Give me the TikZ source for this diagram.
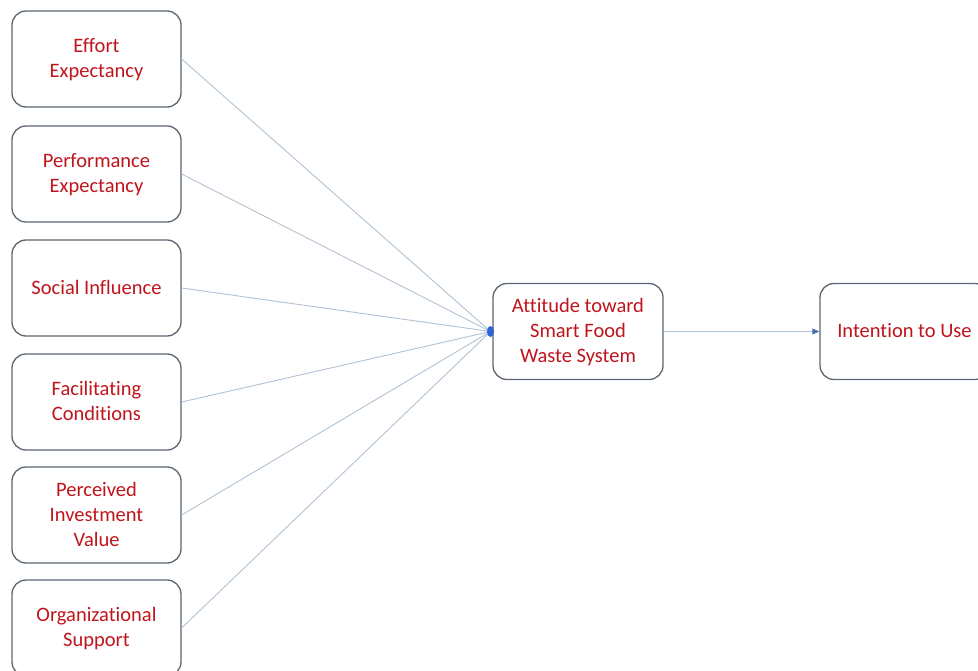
\documentclass[tikz,border=0pt]{standalone}
\usepackage{fontspec}
\setmainfont[Ligatures=NoCommon]{Carlito}
\usetikzlibrary{arrows.meta}
\definecolor{boxline}{HTML}{5C6670}
\definecolor{linkline}{HTML}{B0C2D4}
\definecolor{labelred}{HTML}{C0141C}
\definecolor{dotblue}{HTML}{2E63D6}
\definecolor{tipblue}{HTML}{4A72A8}
\tikzset{
  factor/.style={draw=boxline, line width=1.3pt, rounded corners=14pt,
    minimum width=169pt, minimum height=96pt, align=center,
    text=labelred, font=\fontsize{20.5}{25}\selectfont, inner sep=0pt,
    text depth=1.5pt},
  link/.style={draw=linkline, line width=0.9pt},
}
\begin{document}
\begin{tikzpicture}[x=1pt,y=-1pt]
\useasboundingbox (0,0) rectangle (978,670);
\clip (0,0) rectangle (978,670);
% predictor boxes
\node[factor] (ee) at (96.5,59) {Effort\\Expectancy};
\node[factor] (pe) at (96.5,174) {Performance\\Expectancy};
\node[factor] (si) at (96.5,288) {Social Influence};
\node[factor] (fc) at (96.5,402) {Facilitating\\Conditions};
\node[factor] (pi) at (96.5,515) {Perceived\\Investment\\Value};
\node[factor] (os) at (96.5,628) {Organizational\\Support};
% mediator and outcome
\node[factor, minimum width=170pt] (att) at (578,331.5) {Attitude toward\\Smart Food\\Waste System};
\node[factor] (int) at (904.5,331.5) {Intention to Use};
% junction on the attitude box
\coordinate (hub) at (490.5,331.5);
\foreach \n in {ee,pe,si,fc,pi,os}
  \draw[link] (\n.east) -- (hub);
\fill[dotblue] (hub) ellipse (3.5pt and 5.5pt);
\draw[link, -{Triangle[length=7pt,width=6pt,fill=tipblue,color=tipblue]}] (att.east) -- (int.west);
\end{tikzpicture}
\end{document}
